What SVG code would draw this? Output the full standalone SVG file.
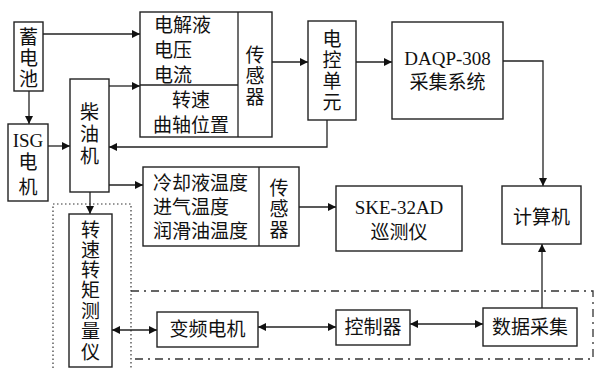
<svg xmlns="http://www.w3.org/2000/svg" width="596" height="368" viewBox="0 0 596 368">
<defs>
<marker id="ah" viewBox="0 0 10 10" refX="10" refY="5" markerWidth="9" markerHeight="8" markerUnits="userSpaceOnUse" orient="auto-start-reverse">
<path d="M0,0 L10,5 L0,10 z" fill="#111"/>
</marker>
<style>
.b{fill:#fff;stroke:#222;stroke-width:1.4}
.l{fill:none;stroke:#222;stroke-width:1.3}
.t{font-family:"Liberation Serif","Noto Sans CJK SC",serif;font-size:19px;fill:#111}
.c{text-anchor:middle}
.dot{fill:none;stroke:#333;stroke-width:1.2;stroke-dasharray:1.5 2.5}
.dd{fill:none;stroke:#333;stroke-width:1.3;stroke-dasharray:8 5 2 5}
</style>
</defs>
<rect width="596" height="368" fill="#fff"/>

<g id="frames">
<path class="dot" d="M53,368 V204 H131 V368"/>
<path class="dd" d="M131,291 H593 V359 H131"/>
</g>

<g id="connectors">
<path class="l" d="M43,34 H140" marker-end="url(#ah)"/>
<path class="l" d="M29,91 V124" marker-end="url(#ah)"/>
<path class="l" d="M48,146 H70" marker-end="url(#ah)"/>
<path class="l" d="M109,86 H140" marker-end="url(#ah)"/>
<path class="l" d="M327,120 V147 H109" marker-end="url(#ah)"/>
<path class="l" d="M272,62 H308" marker-end="url(#ah)"/>
<path class="l" d="M356,62 H392" marker-end="url(#ah)"/>
<path class="l" d="M503,61 H543 V186" marker-end="url(#ah)"/>
<path class="l" d="M542,308 V244" marker-end="url(#ah)"/>
<path class="l" d="M109,185 H143" marker-end="url(#ah)"/>
<path class="l" d="M90,192 V214" marker-end="url(#ah)"/>
<path class="l" d="M299,207 H336" marker-end="url(#ah)"/>
<path class="l" d="M112,330 H157" marker-start="url(#ah)" marker-end="url(#ah)"/>
<path class="l" d="M258,327 H336" marker-start="url(#ah)" marker-end="url(#ah)"/>
<path class="l" d="M410,324 H483" marker-start="url(#ah)" marker-end="url(#ah)"/>
</g>

<g id="battery">
<rect class="b" x="14" y="22" width="29" height="69"/>
<text class="t c" x="28.5" y="44">蓄</text>
<text class="t c" x="28.5" y="65">电</text>
<text class="t c" x="28.5" y="86">池</text>
</g>

<g id="isg">
<rect class="b" x="8" y="124" width="40" height="77"/>
<text class="t c" x="28" y="147">ISG</text>
<text class="t c" x="28" y="169">电</text>
<text class="t c" x="28" y="194">机</text>
</g>

<g id="diesel">
<rect class="b" x="70" y="79" width="39" height="113"/>
<text class="t c" x="89.5" y="119">柴</text>
<text class="t c" x="89.5" y="141">油</text>
<text class="t c" x="89.5" y="163">机</text>
</g>

<g id="sensor1">
<rect class="b" x="140" y="12" width="132" height="125"/>
<path class="l" d="M238,12 V137 M140,85 H238"/>
<text class="t" x="154" y="32">电解液</text>
<text class="t" x="154" y="57">电压</text>
<text class="t" x="154" y="82">电流</text>
<text class="t c" x="191" y="107">转速</text>
<text class="t c" x="191" y="132">曲轴位置</text>
<text class="t c" x="255" y="62">传</text>
<text class="t c" x="255" y="83">感</text>
<text class="t c" x="255" y="104">器</text>
</g>

<g id="ecu">
<rect class="b" x="308" y="21" width="48" height="99"/>
<text class="t c" x="332" y="46">电</text>
<text class="t c" x="332" y="67">控</text>
<text class="t c" x="332" y="88">单</text>
<text class="t c" x="332" y="109">元</text>
</g>

<g id="daqp">
<rect class="b" x="392" y="22" width="111" height="97"/>
<text class="t c" x="447.5" y="65">DAQP-308</text>
<text class="t c" x="447.5" y="89">采集系统</text>
</g>

<g id="computer">
<rect class="b" x="502" y="186" width="79" height="58"/>
<text class="t c" x="541.5" y="224">计算机</text>
</g>

<g id="sensor2">
<rect class="b" x="143" y="167" width="156" height="79"/>
<path class="l" d="M259,167 V246"/>
<text class="t" x="153" y="190">冷却液温度</text>
<text class="t" x="153" y="214">进气温度</text>
<text class="t" x="153" y="238">润滑油温度</text>
<text class="t c" x="279" y="195">传</text>
<text class="t c" x="279" y="216">感</text>
<text class="t c" x="279" y="237">器</text>
</g>

<g id="ske">
<rect class="b" x="336" y="186" width="126" height="65"/>
<text class="t c" x="399" y="214">SKE-32AD</text>
<text class="t c" x="399" y="239">巡测仪</text>
</g>

<g id="torque">
<rect class="b" x="69" y="214" width="43" height="153"/>
<text class="t c" x="90.5" y="237">转</text>
<text class="t c" x="90.5" y="257">速</text>
<text class="t c" x="90.5" y="277">转</text>
<text class="t c" x="90.5" y="297">矩</text>
<text class="t c" x="90.5" y="318">测</text>
<text class="t c" x="90.5" y="338">量</text>
<text class="t c" x="90.5" y="359">仪</text>
</g>

<g id="vfd">
<rect class="b" x="157" y="312" width="101" height="35"/>
<text class="t c" x="207.5" y="336">变频电机</text>
</g>

<g id="controller">
<rect class="b" x="336" y="310" width="74" height="35"/>
<text class="t c" x="373" y="334">控制器</text>
</g>

<g id="daq">
<rect class="b" x="483" y="308" width="94" height="38"/>
<text class="t c" x="530" y="334">数据采集</text>
</g>
</svg>
